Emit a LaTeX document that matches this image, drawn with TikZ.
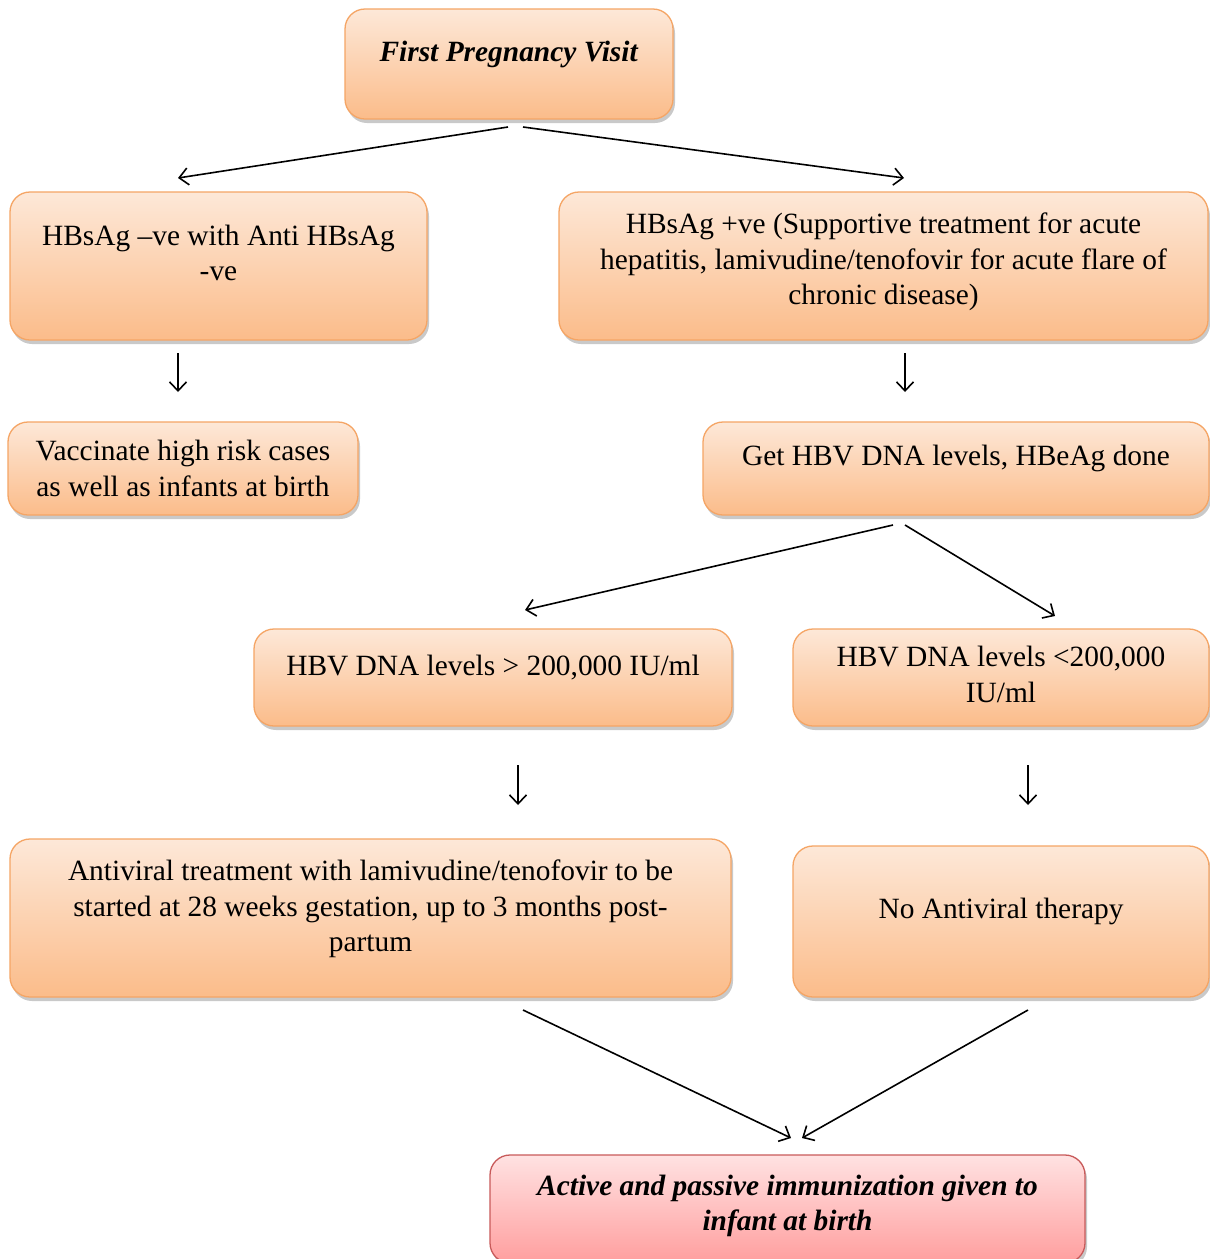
\documentclass[tikz,border=0pt]{standalone}
\usepackage{fontspec}
\setmainfont{Liberation Serif}
\usetikzlibrary{arrows.meta,shadows}
\definecolor{otop}{HTML}{FDE8D8}
\definecolor{obot}{HTML}{FBBC8A}
\definecolor{oline}{HTML}{F5A565}
\definecolor{rtop}{HTML}{FFE2E2}
\definecolor{rbot}{HTML}{FF9E9E}
\definecolor{rline}{HTML}{C85A5A}
\newcommand\upby[2]{\raisebox{#1}[\height][\depth]{#2}}
\tikzset{
  obox/.style={draw=oline, line width=1.3pt, rounded corners=20pt,
    top color=otop, bottom color=obot, align=center,
    font=\fontsize{29.4}{35.5}\selectfont,
    drop shadow={shadow xshift=2pt, shadow yshift=-4pt, opacity=0.35, fill=black!60}},
  rbox/.style={obox, draw=rline, top color=rtop, bottom color=rbot},
  arr/.style={line width=1.6pt, -{Straight Barb[length=9pt,width=17pt,line width=1.6pt]}}
}
\begin{document}
\begin{tikzpicture}[x=1pt,y=-1pt]
\path[use as bounding box, fill=white] (0,0) rectangle (1210,1259);
\clip (0,0) rectangle (1210,1259);

\node[obox, minimum width=328pt, minimum height=110pt] (b1) at (509,64)
  {\upby{10pt}{\textbf{\textit{First Pregnancy Visit}}}};
\node[obox, minimum width=417pt, minimum height=148pt] (b2) at (218.5,266)
  {\upby{10pt}{\begin{tabular}{c}HBsAg –ve with Anti HBsAg\\-ve\end{tabular}}};
\node[obox, minimum width=649pt, minimum height=148pt] (b3) at (883.5,266)
  {\upby{4pt}{\begin{tabular}{c}HBsAg +ve (Supportive treatment for acute\\hepatitis, lamivudine/tenofovir for acute flare of\\chronic disease)\end{tabular}}};
\node[obox, minimum width=350pt, minimum height=93pt] (b4) at (183,468.5)
  {\upby{-3pt}{\begin{tabular}{c}Vaccinate high risk cases\\as well as infants at birth\end{tabular}}};
\node[obox, minimum width=506pt, minimum height=93pt] (b5) at (956,468.5)
  {\upby{10pt}{Get HBV DNA levels, HBeAg done}};
\node[obox, minimum width=478pt, minimum height=97pt] (b6) at (493,677.5)
  {\upby{10pt}{HBV DNA levels > 200,000 IU/ml}};
\node[obox, minimum width=416pt, minimum height=97pt] (b7) at (1001,677.5)
  {\upby{0pt}{\begin{tabular}{c}HBV DNA levels <200,000\\IU/ml\end{tabular}}};
\node[obox, minimum width=721pt, minimum height=158pt] (b8) at (370.5,918)
  {\upby{9pt}{\begin{tabular}{c}Antiviral treatment with lamivudine/tenofovir to be\\started at 28 weeks gestation, up to 3 months post-\\partum\end{tabular}}};
\node[obox, minimum width=416pt, minimum height=151pt] (b9) at (1001,921.5)
  {\upby{10pt}{No Antiviral therapy}};
\node[rbox, minimum width=595pt, minimum height=108pt] (b10) at (787.5,1209)
  {\upby{3pt}{\begin{tabular}{c}\textbf{\textit{Active and passive immunization given to}}\\\textbf{\textit{infant at birth}}\end{tabular}}};

\coordinate (a1s) at (508,127);  \coordinate (a1e) at (178,178);
\coordinate (a2s) at (523,127);  \coordinate (a2e) at (904,178);
\coordinate (a3s) at (178,353);  \coordinate (a3e) at (178,392);
\coordinate (a4s) at (905,353);  \coordinate (a4e) at (905,392);
\coordinate (a5s) at (893,525);  \coordinate (a5e) at (525,610);
\coordinate (a6s) at (905,525);  \coordinate (a6e) at (1055,616);
\coordinate (a7s) at (518,765);  \coordinate (a7e) at (518,805);
\coordinate (a8s) at (1028,765); \coordinate (a8e) at (1028,805);
\coordinate (a9s) at (523,1010); \coordinate (a9e) at (791,1138);
\coordinate (a10s) at (1028,1010); \coordinate (a10e) at (802,1138);

\foreach \i in {1,...,10} \draw[arr] (a\i s) -- (a\i e);
\end{tikzpicture}
\end{document}
